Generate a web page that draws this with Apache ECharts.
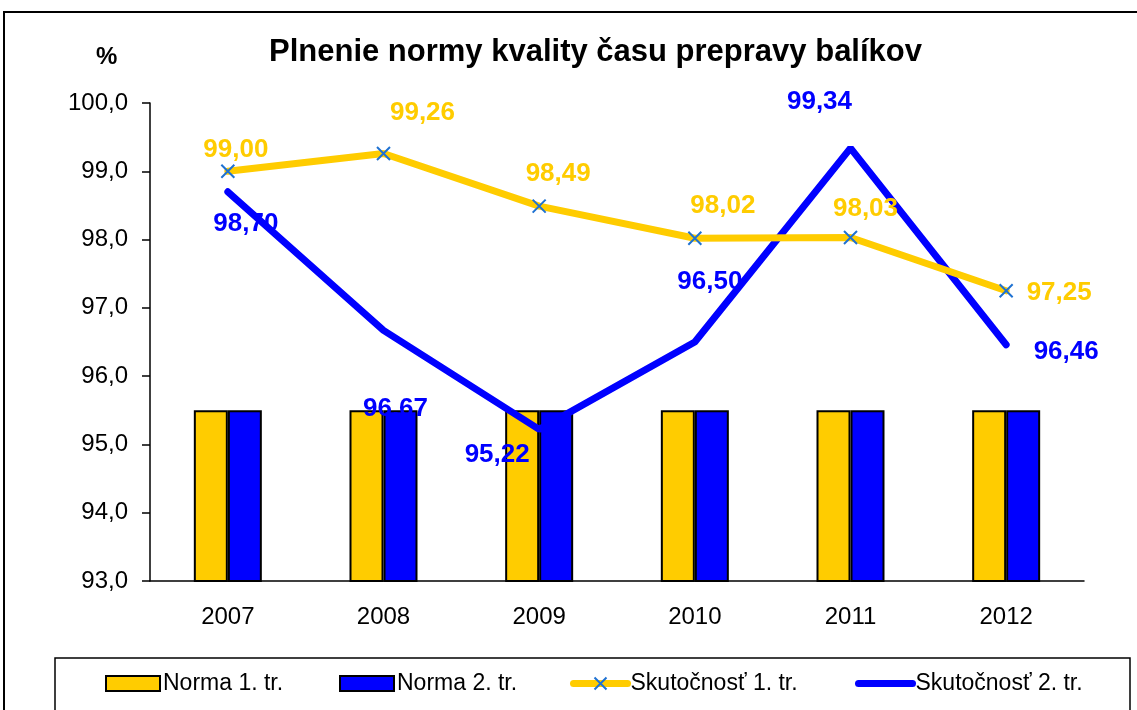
<!DOCTYPE html>
<html>
<head>
<meta charset="utf-8">
<script src="https://cdn.jsdelivr.net/npm/echarts@6/dist/echarts.min.js"></script>
<style>
  html, body { margin: 0; padding: 0; background: #fff; }
  #chart { width: 1137px; height: 710px; }
</style>
</head>
<body>
<div id="chart"></div>
<script>
const years = ['2007', '2008', '2009', '2010', '2011', '2012'];
const norma1 = [95.5, 95.5, 95.5, 95.5, 95.5, 95.5];
const norma2 = [95.5, 95.5, 95.5, 95.5, 95.5, 95.5];
const skut1 = [99.00, 99.26, 98.49, 98.02, 98.03, 97.25];
const skut2 = [98.70, 96.67, 95.22, 96.50, 99.34, 96.46];

// label shifts (px) copied from the hand-placed labels of the original
const shift1 = [[8, -21], [39, -41], [19, -32], [28, -32], [15, -29], [53, 2]];
const shift2 = [[18, 32], [12, 78], [-42, 25], [15, -60], [-31, -46], [60, 7]];

const YEL = '#FFCC00';
const BLU = '#0000FF';
const font = 'Liberation Sans, Arial, sans-serif';
const comma = (v, d) => v.toFixed(d).replace('.', ',');

function lineData(vals, shifts) {
  return vals.map((v, i) => ({ value: v, label: { offset: shifts[i] } }));
}

const chart = echarts.init(document.getElementById('chart'));
chart.setOption({
  backgroundColor: '#fff',
  animation: false,
  textStyle: { fontFamily: font },
  title: {
    text: 'Plnenie normy kvality času prepravy balíkov',
    left: 264,
    top: 32,
    textStyle: { fontSize: 31, fontWeight: 'bold', color: '#000', fontFamily: font }
  },
  graphic: [
    { type: 'rect', shape: { x: 4, y: 12, width: 1140, height: 710 },
      style: { fill: 'none', stroke: '#000', lineWidth: 2 }, silent: true },
    { type: 'rect', shape: { x: 55, y: 658, width: 1075, height: 60 },
      style: { fill: 'none', stroke: '#000', lineWidth: 1.5 }, silent: true },
    { type: 'text', left: 96, top: 45,
      style: { text: '%', font: 'bold 24px ' + font, fill: '#000' } }
  ],
  legend: [
    { data: ['Norma 1. tr.'], left: 105 },
    { data: ['Norma 2. tr.'], left: 339 },
    { data: [{ name: 'Skutočnosť 1. tr.' }], left: 570, lineStyle: { width: 7, cap: 'round' } },
    { data: [{ name: 'Skutočnosť 2. tr.' }], left: 855, lineStyle: { width: 7, cap: 'round' },
      itemStyle: { opacity: 0 } }
  ].map(l => Object.assign({
    top: 672, icon: l.lineStyle ? undefined : 'rect',
    itemWidth: 54, itemHeight: 15, itemGap: 3, padding: 0,
    textStyle: { fontSize: 23, color: '#000', fontFamily: font, padding: [0, 0, 0, -2] }
  }, l)),
  grid: { left: 150, right: 53, top: 103, bottom: 129 },
  xAxis: {
    type: 'category',
    data: years,
    axisLine: { lineStyle: { color: '#000', width: 1.5 } },
    axisTick: { length: 8, lineStyle: { color: '#000', width: 1.5 } },
    axisLabel: { fontSize: 24, color: '#000', margin: 24 }
  },
  yAxis: {
    type: 'value',
    min: 93, max: 100, interval: 1,
    splitLine: { show: false },
    axisLine: { show: true, lineStyle: { color: '#000', width: 1.5 } },
    axisTick: { show: true, length: 8, lineStyle: { color: '#000', width: 1.5 } },
    axisLabel: { fontSize: 24, color: '#000', margin: 22, formatter: v => comma(v, 1) }
  },
  series: [
    {
      name: 'Norma 1. tr.', type: 'bar', data: norma1,
      barWidth: 34, barGap: '0%',
      itemStyle: { color: YEL, borderColor: '#000', borderWidth: 2 }
    },
    {
      name: 'Norma 2. tr.', type: 'bar', data: norma2,
      barWidth: 34, barGap: '0%',
      itemStyle: { color: BLU, borderColor: '#000', borderWidth: 2 }
    },
    {
      name: 'Skutočnosť 1. tr.', type: 'line', data: lineData(skut1, shift1),
      symbol: 'path://M0,0L10,10M10,0L0,10', symbolSize: 13,
      itemStyle: { color: 'none', borderColor: '#1F72D2', borderWidth: 2 },
      lineStyle: { color: YEL, width: 7, cap: 'round' },
      label: {
        show: true, position: 'inside', color: YEL,
        fontSize: 26, fontWeight: 'bold', fontFamily: font,
        formatter: p => comma(p.value, 2)
      },
      z: 5
    },
    {
      name: 'Skutočnosť 2. tr.', type: 'line', data: lineData(skut2, shift2),
      symbol: 'circle', symbolSize: 1,
      itemStyle: { color: BLU },
      lineStyle: { color: BLU, width: 7, cap: 'round' },
      label: {
        show: true, position: 'inside', color: BLU,
        fontSize: 26, fontWeight: 'bold', fontFamily: font,
        formatter: p => comma(p.value, 2)
      },
      z: 4
    }
  ]
});
</script>
</body>
</html>
